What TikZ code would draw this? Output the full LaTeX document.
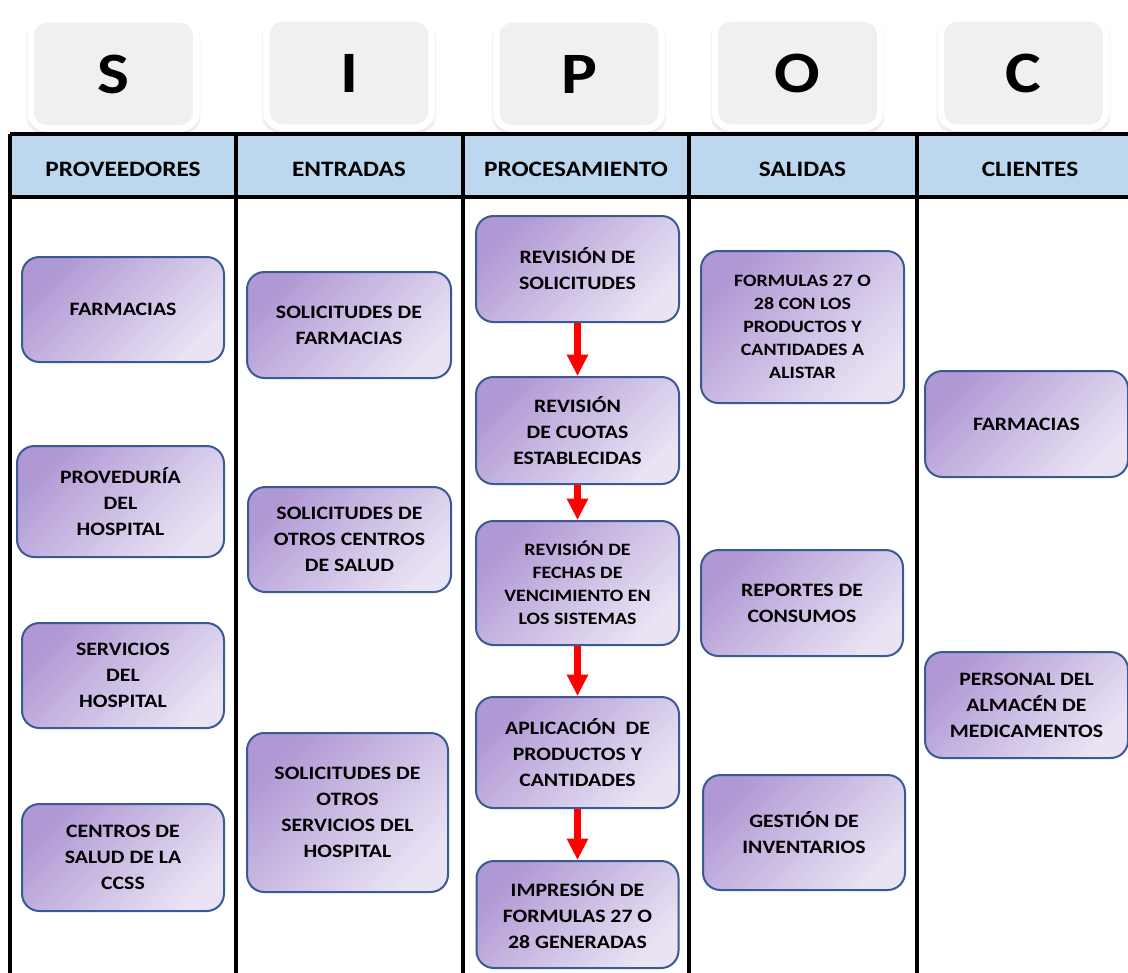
\documentclass[tikz,border=0pt]{standalone}
\usepackage{fontspec}
\setmainfont{Carlito}[FakeStretch=1.15]
\usetikzlibrary{arrows.meta,shadows}

\definecolor{hdrblue}{RGB}{189,215,238}
\definecolor{boxline}{RGB}{58,90,150}
\definecolor{lilacA}{RGB}{176,152,212}
\definecolor{lilacB}{RGB}{233,227,244}
\definecolor{keygray}{RGB}{240,240,240}

\begin{document}
\begin{tikzpicture}[x=0.75pt,y=-0.75pt,
  keycap/.style={fill=keygray, draw=white, line width=5pt, rounded corners=12pt,
    minimum width=124pt, minimum height=82pt,
    general shadow={shadow scale=1.05, shadow yshift=-2pt, fill=black, opacity=0.06},
    general shadow={shadow scale=1.025, shadow yshift=-1.5pt, fill=black, opacity=0.10},
    font=\bfseries\fontsize{44}{44}\selectfont},
  colhead/.style={font=\bfseries\fontsize{16.5}{18}\selectfont},
  stepbox/.style={draw=boxline, line width=1.5pt, rounded corners=13pt,
    top color=lilacA, bottom color=lilacB, shading angle=45,
    align=center, inner sep=2pt, font=\bfseries\fontsize{14.2}{19.5}\selectfont},
  smalltext/.style={font=\bfseries\fontsize{13}{17.3}\selectfont},
  sz/.style 2 args={minimum width=#1*0.75pt, minimum height=#2*0.75pt},
  flowarrow/.style={draw=red, line width=5.2pt, -{Triangle[width=15pt,length=16pt]}},
  rule/.style={draw=black, line width=2.5pt}
]
\useasboundingbox (0,0) rectangle (1128,972);
\clip (0,0) rectangle (1128,972);

% SIPOC key caps
\node[keycap] (k1) at (113.5,74) {S};
\node[keycap] (k2) at (349,73) {I};
\node[keycap] (k3) at (579,74) {P};
\node[keycap] (k4) at (797.5,73) {O};
\node[keycap] (k5) at (1023.5,73) {C};

% table header band and grid
\fill[hdrblue] (10,134) rectangle (1150,197);
\draw[rule] (10,134) -- (1150,134);
\draw[rule] (10,197) -- (1150,197);
\draw[rule] (10,134) -- (10,980);
\foreach \gx in {236,462.5,689,916.5}
  \draw[draw=black, line width=3pt] (\gx,134) -- (\gx,980);

\node[colhead] (h1) at (123,169) {PROVEEDORES};
\node[colhead] (h2) at (349,169) {ENTRADAS};
\node[colhead] (h3) at (576,169) {PROCESAMIENTO};
\node[colhead] (h4) at (802.5,169) {SALIDAS};
\node[colhead] (h5) at (1030,169) {CLIENTES};

% suppliers
\node[stepbox, sz={202}{105}] (s1) at (123,309.5) {FARMACIAS};
\node[stepbox, sz={207}{111}] (s2) at (120.5,501.5) {PROVEDURÍA\\DEL\\HOSPITAL};
\node[stepbox, sz={202}{105}] (s3) at (123,675.5) {SERVICIOS\\DEL\\HOSPITAL};
\node[stepbox, sz={202}{107}] (s4) at (123,857.5) {CENTROS DE\\SALUD DE LA\\CCSS};

% inputs
\node[stepbox, sz={204}{106}] (i1) at (349,325) {SOLICITUDES DE\\FARMACIAS};
\node[stepbox, sz={203}{105}] (i2) at (349.5,539.5) {SOLICITUDES DE\\OTROS CENTROS\\DE SALUD};
\node[stepbox, sz={201}{159}] (i3) at (347.5,812.5) {SOLICITUDES DE\\OTROS\\SERVICIOS DEL\\HOSPITAL};

% process chain
\node[stepbox, sz={203}{106}] (p1) at (577.5,269) {REVISIÓN DE\\SOLICITUDES};
\node[stepbox, sz={203}{107}] (p2) at (577.5,430.5) {REVISIÓN\\DE CUOTAS\\ESTABLECIDAS};
\node[stepbox, smalltext, sz={203}{124}] (p3) at (577.5,583) {REVISIÓN DE\\FECHAS DE\\VENCIMIENTO EN\\LOS SISTEMAS};
\node[stepbox, sz={203}{111}] (p4) at (577.5,752.5) {APLICACIÓN~ DE\\PRODUCTOS Y\\CANTIDADES};
\node[stepbox, sz={202}{107}] (p5) at (577.5,914.5) {IMPRESIÓN DE\\FORMULAS 27 O\\28 GENERADAS};

\draw[flowarrow] (p1.south) -- (p2.north);
\draw[flowarrow] (p2.south) -- (p3.north);
\draw[flowarrow] (p3.south) -- (p4.north);
\draw[flowarrow] (p4.south) -- (p5.north);

% outputs
\node[stepbox, smalltext, sz={203}{152}] (o1) at (802.5,327) {FORMULAS 27 O\\28 CON LOS\\PRODUCTOS Y\\CANTIDADES A\\ALISTAR};
\node[stepbox, sz={202}{106}] (o2) at (802,603) {REPORTES DE\\CONSUMOS};
\node[stepbox, sz={202}{115}] (o3) at (804,832.5) {GESTIÓN DE\\INVENTARIOS};

% customers
\node[stepbox, sz={203}{106}] (c1) at (1026.5,424) {FARMACIAS};
\node[stepbox, sz={203}{106}] (c2) at (1026.5,705) {PERSONAL DEL\\ALMACÉN DE\\MEDICAMENTOS};
\end{tikzpicture}
\end{document}
